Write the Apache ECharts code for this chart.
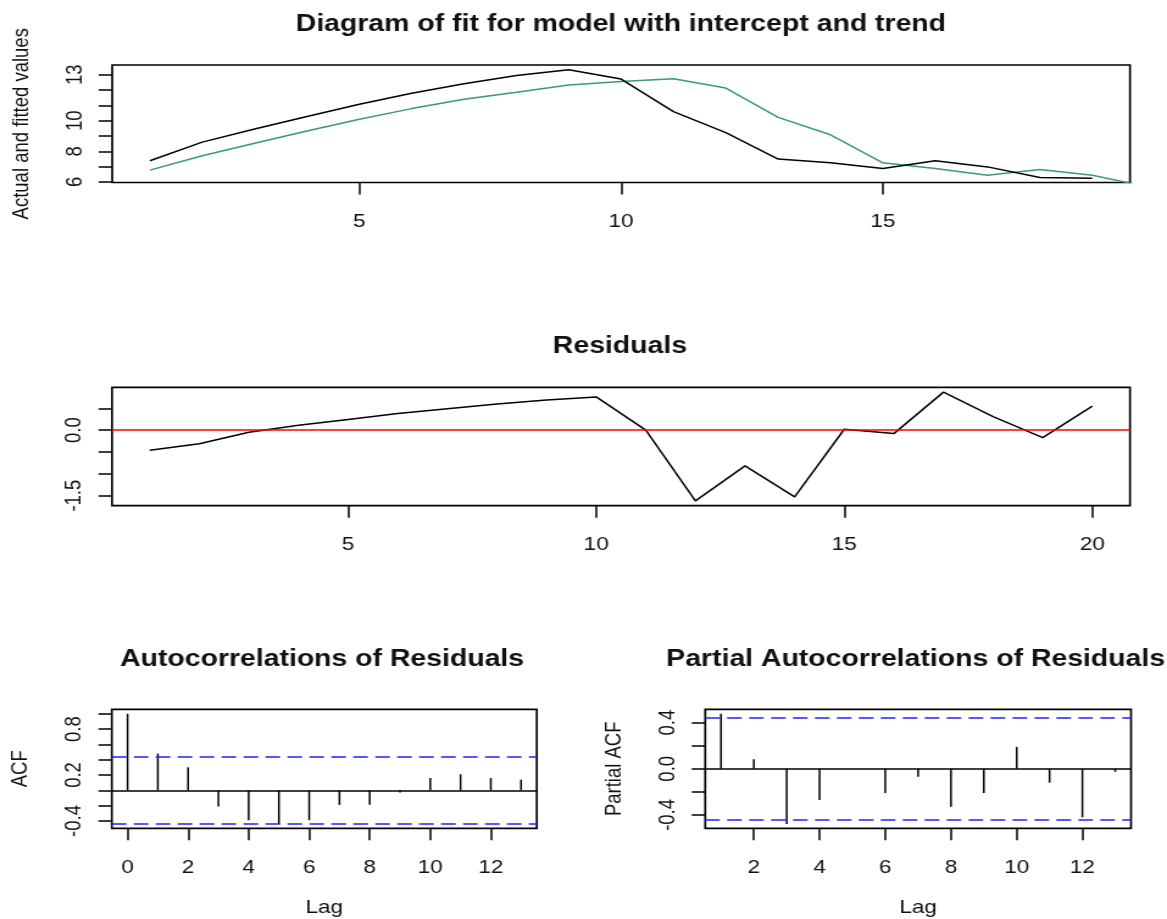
<!DOCTYPE html>
<html>
<head>
<meta charset="utf-8">
<script src="https://cdn.jsdelivr.net/npm/echarts@6.0.0/dist/echarts.min.js"></script>
<style>
html,body{margin:0;padding:0;background:#fff;overflow:hidden;}
#wrap{width:1167px;height:919px;overflow:hidden;background:#fff;}
#chart{width:957px;height:919px;transform:scaleX(1.21944);transform-origin:0 0;}
</style>
</head>
<body>
<div id="wrap"><div id="chart"></div></div>
<script>
// ---------- data ----------
const fitIndex = [1,2,3,4,5,6,7,8,9,10,11,12,13,14,15,16,17,18,19,20];
const actualValues = [7.38,8.60,9.46,10.27,11.07,11.80,12.41,12.95,13.33,12.72,10.59,9.22,7.49,7.25,6.88,7.38,6.98,6.29,6.24];
const fittedValues = [6.77,7.71,8.52,9.33,10.09,10.79,11.40,11.86,12.34,12.56,12.74,12.13,10.22,9.08,7.25,6.88,6.44,6.81,6.44,5.72];
const residualValues = [-0.46,-0.31,-0.05,0.11,0.245,0.38,0.49,0.60,0.69,0.76,0.0,-1.62,-0.82,-1.53,0.02,-0.08,0.87,0.31,-0.17,0.55];
const acfLags = [0,1,2,3,4,5,6,7,8,9,10,11,12,13];
const acfValues = [1.0,0.48,0.30,-0.21,-0.39,-0.44,-0.39,-0.19,-0.19,-0.03,0.16,0.21,0.16,0.14];
const pacfLags = [1,2,3,4,5,6,7,8,9,10,11,12,13];
const pacfValues = [0.478,0.083,-0.478,-0.27,0.0,-0.21,-0.07,-0.33,-0.21,0.19,-0.12,-0.42,-0.026];
const confLimit = 0.438;

const fitXTicks = [5,10,15];
const fitYTicks = [6,7,8,9,10,11,12,13];
const fitYLabels = [6,8,10,13];
const resXTicks = [5,10,15,20];
const resYTicks = [-1.5,-1.0,-0.5,0.0,0.5];
const resYLabels = [-1.5,0.0];
const acfXTicks = [0,2,4,6,8,10,12];
const acfYTicks = [-0.4,-0.2,0.0,0.2,0.4,0.6,0.8,1.0];
const acfYLabels = [-0.4,0.2,0.8];
const pacfXTicks = [2,4,6,8,10,12];
const pacfYTicks = [-0.4,-0.2,0.0,0.2,0.4];
const pacfYLabels = [-0.4,0.0,0.4];

const titles = ['Diagram of fit for model with intercept and trend','Residuals','Autocorrelations of Residuals','Partial Autocorrelations of Residuals'];

// ---------- chart ----------
const FONT = '"Liberation Sans", Arial, Helvetica, sans-serif';
const pairs = (xs, ys) => ys.map((v, i) => [xs[i], v]);

function xAxisOf(grid, min, max, ticks, name) {
  return {
    type: 'value', gridIndex: grid, min: min, max: max,
    axisLine: {show: false, onZero: false},
    axisTick: {show: true, customValues: ticks, length: 12, lineStyle: {color: '#000', width: 1.5}},
    axisLabel: {customValues: ticks, margin: 30, fontSize: 18.5, color: '#111', fontFamily: FONT},
    splitLine: {show: false},
    name: name || '', nameLocation: 'middle', nameGap: 70,
    nameTextStyle: {fontSize: 18.5, color: '#111', fontFamily: FONT}
  };
}
function yAxisOf(grid, min, max, ticks, labels, fmt, name) {
  return {
    type: 'value', gridIndex: grid, min: min, max: max,
    axisLine: {show: false, onZero: false},
    axisTick: {show: true, customValues: ticks, length: 11, lineStyle: {color: '#000', width: 1.5}},
    axisLabel: {customValues: labels, margin: 21, rotate: 90, fontSize: 18.5, color: '#111', fontFamily: FONT, formatter: fmt},
    splitLine: {show: false},
    name: name || '', nameLocation: 'middle', nameGap: 65,
    nameTextStyle: {fontSize: 18.5, color: '#111', fontFamily: FONT}
  };
}
const oneDec = v => Number(v).toFixed(1);
const intFmt = v => String(Math.round(v));

const gridStyle = {show: true, borderColor: '#000', borderWidth: 1.7, backgroundColor: 'transparent'};
const hLine = (y, color, type, width) => ({
  yAxis: y, lineStyle: {color: color, type: type, width: width}
});
const markLineBase = {silent: true, symbol: ['none', 'none'], label: {show: false}, animation: false};

function titleText(text, x, y) {
  return {type: 'text', x: x, y: y, silent: true,
    style: {text: text, fill: '#111', font: 'bold 23.3px ' + FONT, align: 'center', verticalAlign: 'middle'}};
}

const option = {
  animation: false,
  backgroundColor: '#fff',
  grid: [
    Object.assign({left: 91.85, top: 65, width: 834.8, height: 117.5}, gridStyle),
    Object.assign({left: 91.85, top: 387.3, width: 834.8, height: 118.4}, gridStyle),
    Object.assign({left: 91.7, top: 709.3, width: 348.5, height: 119}, gridStyle),
    Object.assign({left: 578.3, top: 709.3, width: 349.2, height: 119}, gridStyle)
  ],
  xAxis: [
    xAxisOf(0, 0.28, 19.72, fitXTicks),
    xAxisOf(1, 0.24, 20.76, resXTicks),
    xAxisOf(2, -0.52, 13.52, acfXTicks, 'Lag'),
    xAxisOf(3, 0.52, 13.48, pacfXTicks, 'Lag')
  ],
  yAxis: [
    yAxisOf(0, 5.96, 13.64, fitYTicks, fitYLabels, intFmt, 'Actual and fitted values'),
    yAxisOf(1, -1.73, 0.98, resYTicks, resYLabels, oneDec),
    yAxisOf(2, -0.496, 1.058, acfYTicks, acfYLabels, oneDec, 'ACF'),
    yAxisOf(3, -0.516, 0.516, pacfYTicks, pacfYLabels, oneDec, 'Partial ACF')
  ],
  graphic: [
    titleText(titles[0], 509.2, 24.5),
    titleText(titles[1], 508.4, 347),
    titleText(titles[2], 264.1, 660),
    titleText(titles[3], 750.9, 660)
  ],
  series: [
    {type: 'line', xAxisIndex: 0, yAxisIndex: 0, data: pairs(fitIndex, actualValues), symbol: 'none',
     lineStyle: {color: '#000', width: 1.5}, itemStyle: {color: '#000'}, clip: true, z: 3},
    {type: 'line', xAxisIndex: 0, yAxisIndex: 0, data: pairs(fitIndex, fittedValues), symbol: 'none',
     lineStyle: {color: '#3b9c67', width: 1.5}, itemStyle: {color: '#3b9c67'}, clip: true, z: 2},
    {type: 'line', xAxisIndex: 1, yAxisIndex: 1, data: pairs(fitIndex, residualValues), symbol: 'none',
     lineStyle: {color: '#000', width: 1.5}, itemStyle: {color: '#000'}, clip: true,
     markLine: Object.assign({data: [hLine(0, '#ff0000', 'solid', 1.7)]}, markLineBase)},
    {type: 'bar', xAxisIndex: 2, yAxisIndex: 2, data: pairs(acfLags, acfValues), barWidth: 1.5,
     itemStyle: {color: '#000'},
     markLine: Object.assign({data: [hLine(0, '#000', 'solid', 1.7), hLine(confLimit, '#2020ff', [12, 6], 1.7), hLine(-confLimit, '#2020ff', [12, 6], 1.7)]}, markLineBase)},
    {type: 'bar', xAxisIndex: 3, yAxisIndex: 3, data: pairs(pacfLags, pacfValues), barWidth: 1.5,
     itemStyle: {color: '#000'},
     markLine: Object.assign({data: [hLine(0, '#000', 'solid', 1.7), hLine(confLimit, '#2020ff', [12, 6], 1.7), hLine(-confLimit, '#2020ff', [12, 6], 1.7)]}, markLineBase)}
  ]
};

const chart = echarts.init(document.getElementById('chart'), null, {renderer: 'canvas'});
chart.setOption(option);
</script>
</body>
</html>
